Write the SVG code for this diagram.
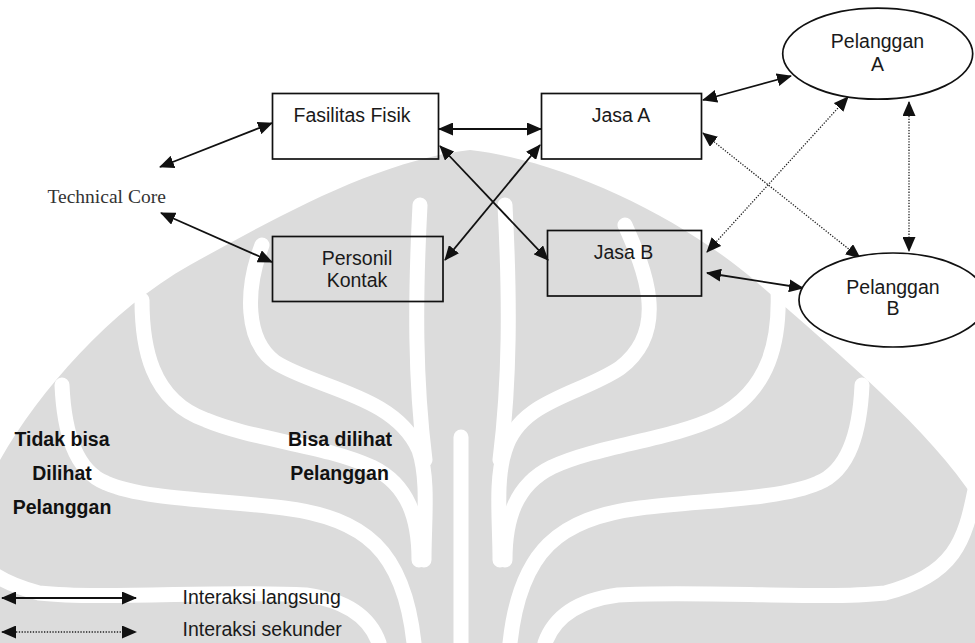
<svg xmlns="http://www.w3.org/2000/svg" width="975" height="643" viewBox="0 0 975 643">
  <style>
    .box { fill: none; stroke: #111; stroke-width: 1.7; }
    .oval { fill: #fff; stroke: #111; stroke-width: 1.7; }
    .lbl { font-family: "Liberation Sans", Arial, sans-serif; font-size: 19.5px; fill: #1a1a1a; text-anchor: middle; }
    .start { text-anchor: start; }
    .bold { font-family: "Liberation Sans", Arial, sans-serif; font-size: 19.5px; font-weight: bold; fill: #111; text-anchor: middle; }
    .serif { font-family: "Liberation Serif", "Times New Roman", serif; font-size: 19.5px; fill: #333; }
    .solid { stroke: #111; stroke-width: 1.8; fill: none; marker-start: url(#ah); marker-end: url(#ah); }
    .dotted { stroke: #222; stroke-width: 1.3; stroke-dasharray: 1.3 1.5; fill: none; marker-start: url(#ah); marker-end: url(#ah); }
    .band { fill: none; stroke: #fff; stroke-width: 15; stroke-linecap: round; }
  </style>
  <defs>
    <marker id="ah" viewBox="0 0 15 13" refX="14" refY="6.5" markerWidth="15" markerHeight="13" markerUnits="userSpaceOnUse" orient="auto-start-reverse">
      <path d="M0,0 L15,6.5 L0,13 Z" fill="#111"/>
    </marker>
  </defs>

  <rect width="975" height="643" fill="#fff"/>

  <!-- faint background emblem -->
  <g id="emblem">
    <path fill="#dcdcdc" d="M470,150 C560,160 680,215 760,285 C840,355 930,430 975,500 L975,643 L0,643 L0,460 C40,390 110,310 190,265 C280,215 380,160 470,150 Z"/>
    <path class="band" d="M505,205 C510,300 510,380 500,460"/>
    <path class="band" d="M420,205 C415,300 415,380 425,460"/>
    <path class="band" stroke-width="10" d="M461,437 L461,643"/>
    <path class="band" d="M625,225 C645,270 670,330 620,368 C580,395 520,400 505,450 C495,480 500,520 500,560"/>
    <path class="band" d="M262,245 C245,290 245,340 275,362 C315,388 395,395 419,450 C429,480 424,520 424,560"/>
    <path class="band" d="M778,290 C780,340 770,390 718,417 C670,440 600,445 552,467 C515,485 505,520 505,560"/>
    <path class="band" d="M142,300 C142,345 150,400 206,420 C254,440 324,445 372,467 C409,485 419,520 419,560"/>
    <path class="band" d="M862,385 C860,430 850,470 818,483 C780,500 700,500 640,508 C560,518 520,550 510,643"/>
    <path class="band" d="M62,385 C64,430 74,470 106,483 C144,500 224,500 284,508 C364,518 404,550 414,643"/>
    <path class="band" d="M975,490 C965,540 955,575 885,593 C820,600 700,590 618,595 C580,600 555,615 545,643"/>
    <path class="band" d="M-51,490 C-41,540 -31,575 39,593 C104,600 224,590 306,595 C344,600 369,615 379,643"/>
  </g>

  <!-- connectors -->
  <g id="connectors">
    <line class="solid" x1="160" y1="167" x2="272" y2="123"/>
    <line class="solid" x1="161" y1="213" x2="272" y2="262"/>
    <line class="solid" x1="439" y1="129" x2="541" y2="129"/>
    <line class="solid" x1="440" y1="146" x2="548" y2="260"/>
    <line class="solid" x1="540" y1="145" x2="445" y2="260"/>
    <line class="solid" x1="703" y1="100" x2="791" y2="76"/>
    <line class="dotted" x1="703" y1="133" x2="860" y2="258"/>
    <line class="dotted" x1="707" y1="252" x2="848" y2="97"/>
    <line class="dotted" x1="909" y1="102" x2="909" y2="251"/>
    <line class="solid" x1="707" y1="273" x2="803" y2="288"/>
  </g>

  <g id="technical-core">
    <text class="serif" x="47.5" y="203">Technical Core</text>
  </g>

  <g id="fasilitas-fisik">
    <rect class="box" x="272.5" y="93.5" width="166" height="65.5"/>
    <text class="lbl" x="352" y="122">Fasilitas Fisik</text>
  </g>

  <g id="jasa-a">
    <rect class="box" x="541.5" y="93.5" width="160" height="65.5"/>
    <text class="lbl" x="621" y="122">Jasa A</text>
  </g>

  <g id="personil-kontak">
    <rect class="box" x="272.5" y="236.5" width="170.5" height="65"/>
    <text class="lbl" x="357" y="265">Personil</text>
    <text class="lbl" x="357" y="287">Kontak</text>
  </g>

  <g id="jasa-b">
    <rect class="box" x="547.5" y="230.5" width="154" height="65.5"/>
    <text class="lbl" x="623.5" y="258.5">Jasa B</text>
  </g>

  <g id="pelanggan-a">
    <ellipse class="oval" cx="877.7" cy="53.7" rx="95" ry="45.5"/>
    <text class="lbl" x="877.5" y="48">Pelanggan</text>
    <text class="lbl" x="877.5" y="70.5">A</text>
  </g>

  <g id="pelanggan-b">
    <ellipse class="oval" cx="893" cy="300" rx="94" ry="47"/>
    <text class="lbl" x="893" y="293.5">Pelanggan</text>
    <text class="lbl" x="893" y="315">B</text>
  </g>

  <g id="zone-hidden">
    <text class="bold" x="62" y="445.5">Tidak bisa</text>
    <text class="bold" x="62" y="480">Dilihat</text>
    <text class="bold" x="62" y="514">Pelanggan</text>
  </g>

  <g id="zone-visible">
    <text class="bold" x="340" y="445.5">Bisa dilihat</text>
    <text class="bold" x="339.5" y="480">Pelanggan</text>
  </g>

  <g id="legend">
    <line class="solid" x1="2" y1="598" x2="136" y2="598"/>
    <line class="dotted" x1="2" y1="632" x2="136" y2="632"/>
    <text class="lbl start" x="182.5" y="603.5">Interaksi langsung</text>
    <text class="lbl start" x="182.5" y="636">Interaksi sekunder</text>
  </g>
</svg>
